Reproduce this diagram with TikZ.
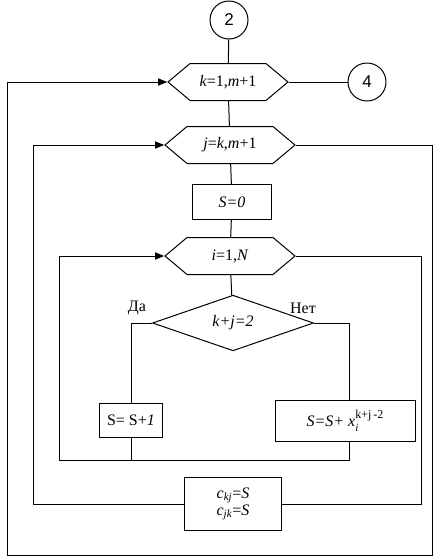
\documentclass[tikz,border=0pt]{standalone}
\usepackage{fontspec}
\setmainfont{Liberation Serif}
\newfontfamily\digitfont{Liberation Sans}
\usetikzlibrary{shapes.geometric,shapes.symbols,arrows.meta}

\begin{document}
\begin{tikzpicture}[x=1pt,y=-1pt,line width=1pt,
    every node/.style={font=\fontsize{16}{19}\selectfont},
    conn/.style={draw,circle,minimum size=38pt,inner sep=0pt,font=\digitfont\fontsize{17}{19}\selectfont},
    loopnode/.style={draw,signal,signal to=west and east,signal pointer angle=80,minimum width=125pt,minimum height=37pt,inner sep=0pt},
    procbox/.style={draw,rectangle,inner sep=0pt},
    decide/.style={draw,diamond,minimum width=161pt,minimum height=48pt,inner sep=0pt},
    arr/.style={-{Triangle[length=9pt,width=7pt]}}]
    \useasboundingbox (0,0) rectangle (437,560);
    \node[conn] (c2) at (229,20) {2};
    \node[loopnode,minimum width=120pt] (kloop) at (228,82) {\textit{k}=1,\textit{m}+1};
    \node[conn] (c4) at (367,82) {4};
    \node[loopnode,minimum width=130pt] (jloop) at (230,145) {\textit{j}=\textit{k},\textit{m}+1};
    \node[procbox,minimum width=79pt,minimum height=35pt] (szero) at (232,202) {\textit{S=0}};
    \node[loopnode,minimum width=130pt] (iloop) at (230,256) {\textit{i}=1,\textit{N}};
    \node[decide] (cond) at (233,323) {\textit{k+j=2}};
    \node (yes) at (137,308) {Да};
    \node (no) at (303,308) {Нет};
    \node[procbox,minimum width=63pt,minimum height=34pt] (sone) at (131,420) {S= S+\textit{1}};
    \node[procbox,minimum width=140pt,minimum height=41pt] (sx) at (345,421) {\textit{S=S+ x}\rlap{\raisebox{-5pt}{\fontsize{11}{13}\selectfont\textit{i}}}\raisebox{8pt}{\fontsize{12}{14}\selectfont k+j\,-2}\hspace{4pt}};
    \node[procbox,minimum width=97pt,minimum height=53pt,align=center] (cbox) at (233,504) {\textit{c}\textsubscript{\textit{kj}}=\textit{S}\\[-2pt]\textit{c}\textsubscript{\textit{jk}}=\textit{S}};
    \coordinate (ijoin) at (59,460);
    \coordinate (jret) at (421,504);
    \coordinate (jback) at (33,504);
    \coordinate (kret) at (432,555);
    \coordinate (kback) at (7,555);
    \draw (c2) -- (kloop);
    \draw (kloop.east) -- (c4);
    \draw (kloop) -- (jloop);
    \draw (jloop) -- (szero);
    \draw (szero) -- (iloop);
    \draw (iloop) -- (cond);
    \draw (cond.west) -| (sone.north);
    \draw (cond.east) -| ([xshift=4pt]sx.north);
    \draw (sone.south) -- (sone.south |- ijoin);
    \draw ([xshift=4pt]sx.south) |- (ijoin);
    \draw[arr] (ijoin) |- (iloop.west);
    \draw (iloop.east) -| (jret) -- (cbox.east);
    \draw[arr] (cbox.west) -- (jback) |- (jloop.west);
    \draw[arr] (jloop.east) -| (kret) -- (kback) |- (kloop.west);
\end{tikzpicture}
\end{document}
